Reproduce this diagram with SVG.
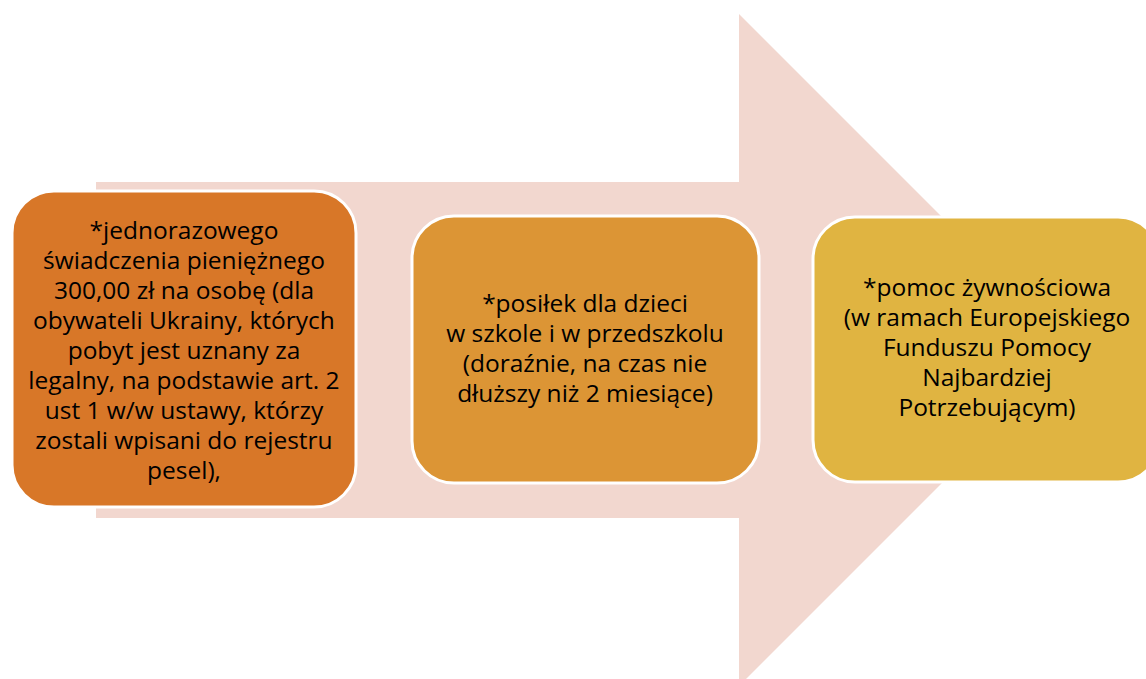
<svg xmlns="http://www.w3.org/2000/svg" width="1146" height="679" viewBox="0 0 1146 679">
<style>
.box{stroke:#fff;stroke-width:3}
.t{font-family:"Open Sans",Lato,"Liberation Sans",sans-serif;font-size:24.5px;fill:#000;text-anchor:middle}
</style>
<rect width="1146" height="679" fill="#fff"/>
<g id="arrow">
<polygon points="96,182 739,182 739,14 1075,350 739,686 739,518 96,518" fill="#F2D7CF"/>
</g>
<g id="connectors"></g>
<g id="node1">
<rect class="box" x="12" y="191" width="344" height="316" rx="42" fill="#D87728"/>
<text class="t" x="184" y="238.5"><tspan x="184">*jednorazowego</tspan><tspan x="184" dy="30">świadczenia pieniężnego</tspan><tspan x="184" dy="30">300,00 zł na osobę (dla</tspan><tspan x="184" dy="30">obywateli Ukrainy, których</tspan><tspan x="184" dy="30">pobyt jest uznany za</tspan><tspan x="184" dy="30">legalny, na podstawie art. 2</tspan><tspan x="184" dy="30">ust 1 w/w ustawy, którzy</tspan><tspan x="184" dy="30">zostali wpisani do rejestru</tspan><tspan x="184" dy="30">pesel),</tspan></text>
</g>
<g id="node2">
<rect class="box" x="412" y="216" width="347" height="267" rx="42" fill="#DC9535"/>
<text class="t" x="585" y="312"><tspan x="585">*posiłek dla dzieci</tspan><tspan x="585" dy="30">w szkole i w przedszkolu</tspan><tspan x="585" dy="30">(doraźnie, na czas nie</tspan><tspan x="585" dy="30">dłuższy niż 2 miesiące)</tspan></text>
</g>
<g id="node3">
<rect class="box" x="813" y="217" width="347" height="265" rx="42" fill="#E0B441"/>
<text class="t" x="987" y="296"><tspan x="987">*pomoc żywnościowa</tspan><tspan x="987" dy="30">(w ramach Europejskiego</tspan><tspan x="987" dy="30">Funduszu Pomocy</tspan><tspan x="987" dy="30">Najbardziej</tspan><tspan x="987" dy="30">Potrzebującym)</tspan></text>
</g>
</svg>
